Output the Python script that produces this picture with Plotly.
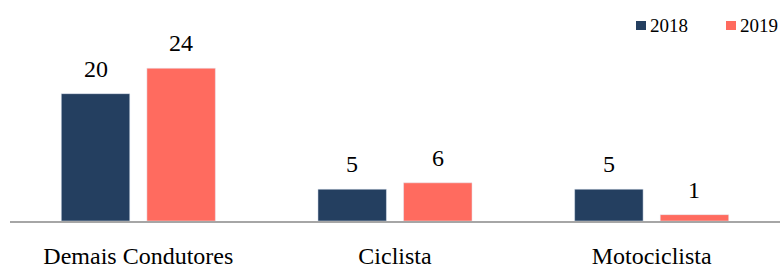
import plotly.graph_objects as go

categories = ["Demais Condutores", "Ciclista", "Motociclista"]
values_2018 = [20, 5, 5]
values_2019 = [24, 6, 1]
series_names = ["2018", "2019"]

colors = ["#243F60", "#FF6B5F"]
font_family = "Times New Roman, Liberation Serif, DejaVu Serif, serif"

W, H = 781, 270
ML, MR, MT, MB = 10, 1, 30, 49
plot_w = W - ML - MR
plot_h = H - MT - MB
bargap, bargroupgap = 0.333, 0.2
slot_px = plot_w / len(categories) * (1 - bargap) / 2  # width of one trace slot

fig = go.Figure()
series = [values_2018, values_2019]
for i, (name, vals, col) in enumerate(zip(series_names, series, colors)):
    fig.add_trace(go.Bar(
        x=categories, y=vals, name=name, marker_color=col,
        showlegend=False, cliponaxis=False,
    ))
    shift = (i - (len(series) - 1) / 2) * slot_px
    for c, v in zip(categories, vals):
        fig.add_annotation(x=c, y=v, text=str(v), showarrow=False,
                           xshift=shift, yshift=10, yanchor="bottom",
                           font=dict(family=font_family, size=24, color="#000000"))

# manual legend (top right)
def px_to_paper_x(px):
    return (px - ML) / plot_w

def px_to_paper_y(py):
    return (H - MB - py) / plot_h

legend_x = [636, 726]
for name, col, lx in zip(series_names, colors, legend_x):
    fig.add_shape(type="rect", xref="paper", yref="paper",
                  x0=px_to_paper_x(lx), x1=px_to_paper_x(lx + 10),
                  y0=px_to_paper_y(30), y1=px_to_paper_y(21),
                  fillcolor=col, line_width=0)
    fig.add_annotation(xref="paper", yref="paper",
                       x=px_to_paper_x(lx + 12), y=px_to_paper_y(26),
                       xanchor="left", yanchor="middle", showarrow=False,
                       text=name, font=dict(family=font_family, size=19, color="#000000"))

fig.update_layout(
    width=W, height=H,
    margin=dict(l=ML, r=MR, t=MT, b=MB, autoexpand=False),
    paper_bgcolor="white", plot_bgcolor="white",
    barmode="group", bargap=bargap, bargroupgap=bargroupgap,
    font=dict(family=font_family, color="#000000"),
    showlegend=False,
    xaxis=dict(showline=True, linecolor="#A6A6A6", linewidth=1.5,
               ticks="outside", ticklen=12, tickcolor="rgba(0,0,0,0)",
               tickfont=dict(family=font_family, size=24), showgrid=False,
               automargin=False),
    yaxis=dict(range=[0, 30], visible=False, showgrid=False, zeroline=False,
               automargin=False),
)

fig.write_html("out.html", config={"displayModeBar": False},
               post_script="document.body.style.margin='0';document.body.style.overflow='hidden';")
